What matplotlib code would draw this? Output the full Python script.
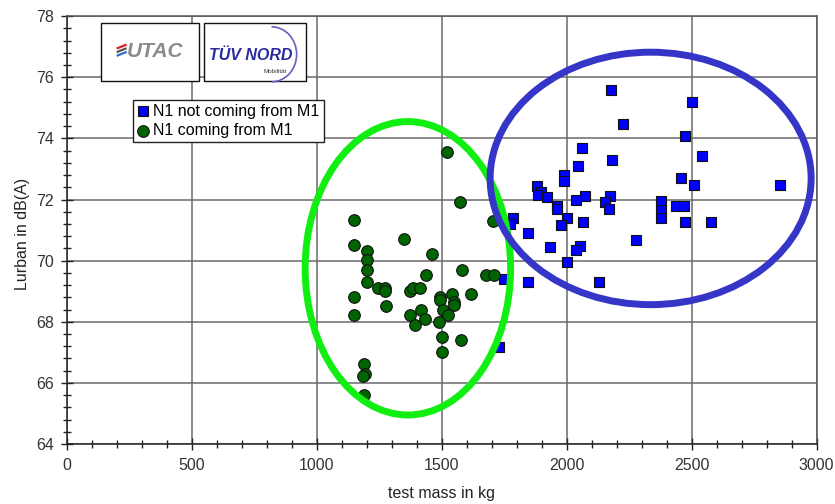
import matplotlib
matplotlib.use("Agg")
import matplotlib.pyplot as plt
from matplotlib.patches import Ellipse, Rectangle, Arc
from matplotlib.ticker import MultipleLocator

plt.rcParams['font.family'] = ['Liberation Sans', 'DejaVu Sans']

# N1 coming from M1 (green circles)
green_mass = [1520, 1573, 1705, 1151, 1151, 1351, 1202, 1202, 1202, 1202,
              1460, 1583, 1438, 1679, 1708, 1244, 1274, 1274, 1374, 1387,
              1414, 1151, 1493, 1542, 1619, 1493, 1549, 1549, 1277, 1504,
              1416, 1526, 1374, 1151, 1434, 1394, 1491, 1500, 1577, 1500,
              1191, 1195, 1186, 1189]
green_lurban = [73.56, 71.92, 71.30, 71.32, 70.50, 70.72, 70.32, 70.01, 69.70, 69.30,
                70.21, 69.70, 69.52, 69.52, 69.52, 69.11, 69.11, 69.00, 69.00, 69.10,
                69.11, 68.81, 68.81, 68.92, 68.92, 68.70, 68.64, 68.54, 68.51, 68.39,
                68.39, 68.21, 68.21, 68.21, 68.10, 67.91, 67.99, 67.50, 67.41, 67.00,
                66.62, 66.30, 66.21, 65.61]

# N1 not coming from M1 (blue squares)
blue_mass = [2178, 2503, 2225, 2473, 2062, 2182, 2540, 2046, 1989, 1989,
             2456, 2509, 2855, 1881, 1897, 1886, 1923, 2072, 2036, 2175,
             2155, 2168, 1960, 1963, 2378, 2378, 2378, 2438, 2469, 2000,
             1976, 2065, 2473, 2576, 1784, 1775, 1844, 2278, 1934, 2053,
             2038, 2000, 1748, 1844, 2129, 1730]
blue_lurban = [75.59, 75.18, 74.47, 74.09, 73.69, 73.29, 73.41, 73.11, 72.81, 72.62,
               72.70, 72.48, 72.48, 72.45, 72.23, 72.16, 72.09, 72.10, 71.98, 72.12,
               71.91, 71.69, 71.80, 71.69, 71.94, 71.67, 71.39, 71.80, 71.80, 71.41,
               71.17, 71.28, 71.28, 71.28, 71.41, 71.20, 70.89, 70.68, 70.45, 70.49,
               70.34, 69.97, 69.40, 69.31, 69.31, 67.19]

series_labels = ["N1 not coming from M1", "N1 coming from M1"]
x_label = "test mass in kg"
y_label = "Lurban in dB(A)"

fig = plt.figure(figsize=(8.35, 5.04), dpi=100)
ax = fig.add_axes([0.0798, 0.119, 0.8982, 0.849])

ax.set_xlim(0, 3000)
ax.set_ylim(64, 78)
ax.xaxis.set_major_locator(MultipleLocator(500))
ax.xaxis.set_minor_locator(MultipleLocator(100))
ax.yaxis.set_major_locator(MultipleLocator(2))
ax.yaxis.set_minor_locator(MultipleLocator(0.4))
ax.tick_params(which='both', direction='inout', color='#222222', width=1,
               top=False, right=False)
ax.tick_params(which='major', length=8, labelsize=11.5, labelcolor='#333333')
ax.tick_params(axis='x', which='major', pad=6)
ax.tick_params(axis='y', which='major', pad=5)
ax.tick_params(which='minor', length=6)
ax.grid(True, which='major', color='#6a6a6a', linewidth=1.1, zorder=0)
ax.set_axisbelow(True)
for s in ax.spines.values():
    s.set_color('#555555')
    s.set_linewidth(1.1)
ax.spines['left'].set_color('#222222')
ax.spines['bottom'].set_color('#222222')

ax.scatter(blue_mass, blue_lurban, marker='s', s=62, c='#0000ff',
           edgecolors='#111111', linewidths=0.8, zorder=3, label=series_labels[0])
ax.scatter(green_mass, green_lurban, marker='o', s=70, c='#006400',
           edgecolors='#111111', linewidths=0.8, zorder=3, label=series_labels[1])

ax.set_xlabel(x_label, fontsize=11.5, color='#222222')
ax.set_ylabel(y_label, fontsize=11.5, color='#222222')
ax.xaxis.set_label_coords(0.5, -0.1145)
ax.xaxis.label.set_va('center')
ax.yaxis.set_label_coords(-0.0595, 0.49)
ax.yaxis.label.set_va('center')

# ellipses
ax.add_patch(Ellipse((1365, 69.75), 822, 9.6, fill=False, edgecolor='#11ee11',
                     linewidth=5, zorder=4))
ax.add_patch(Ellipse((2336, 72.69), 1284, 8.26, fill=False, edgecolor='#3535c8',
                     linewidth=5, zorder=4))

# logos
ax.add_patch(Rectangle((136, 75.88), 395, 1.88, facecolor='white',
                       edgecolor='#111111', linewidth=1, zorder=5))
ax.add_patch(Rectangle((550, 75.88), 408, 1.88, facecolor='white',
                       edgecolor='#111111', linewidth=1, zorder=5))
for dy, col in [(0.12, '#e02020'), (0.0, '#555555'), (-0.12, '#2a6fd0')]:
    ax.plot([200, 240], [76.82 + dy, 76.95 + dy], color=col, lw=1.6, zorder=6,
            solid_capstyle='butt')
ax.text(355, 76.85, "UTAC", fontsize=15, fontweight='bold', style='italic',
        color='#8a8a8a', ha='center', va='center', zorder=6)
ax.text(735, 76.7, "TÜV NORD", fontsize=11.5, fontweight='bold', style='italic',
        color='#2b2b9e', ha='center', va='center', zorder=6)
ax.text(835, 76.2, "Mobilität", fontsize=4.5, color='#333333',
        ha='center', va='center', zorder=6)
ax.add_patch(Arc((820, 76.75), 200, 1.8, theta1=-40, theta2=110,
                 edgecolor='#6a5cc0', linewidth=1.2, zorder=6))

leg = ax.legend(loc='upper left', bbox_to_anchor=(0.089, 0.805), borderaxespad=0,
                fontsize=11.5, frameon=True, fancybox=False, edgecolor='#222222',
                framealpha=1, handlelength=0.7, handletextpad=0.3, borderpad=0.25,
                labelspacing=0.3, scatterpoints=1)
leg.get_frame().set_linewidth(1)
leg.set_zorder(6)

fig.savefig("out.png", dpi=100)
